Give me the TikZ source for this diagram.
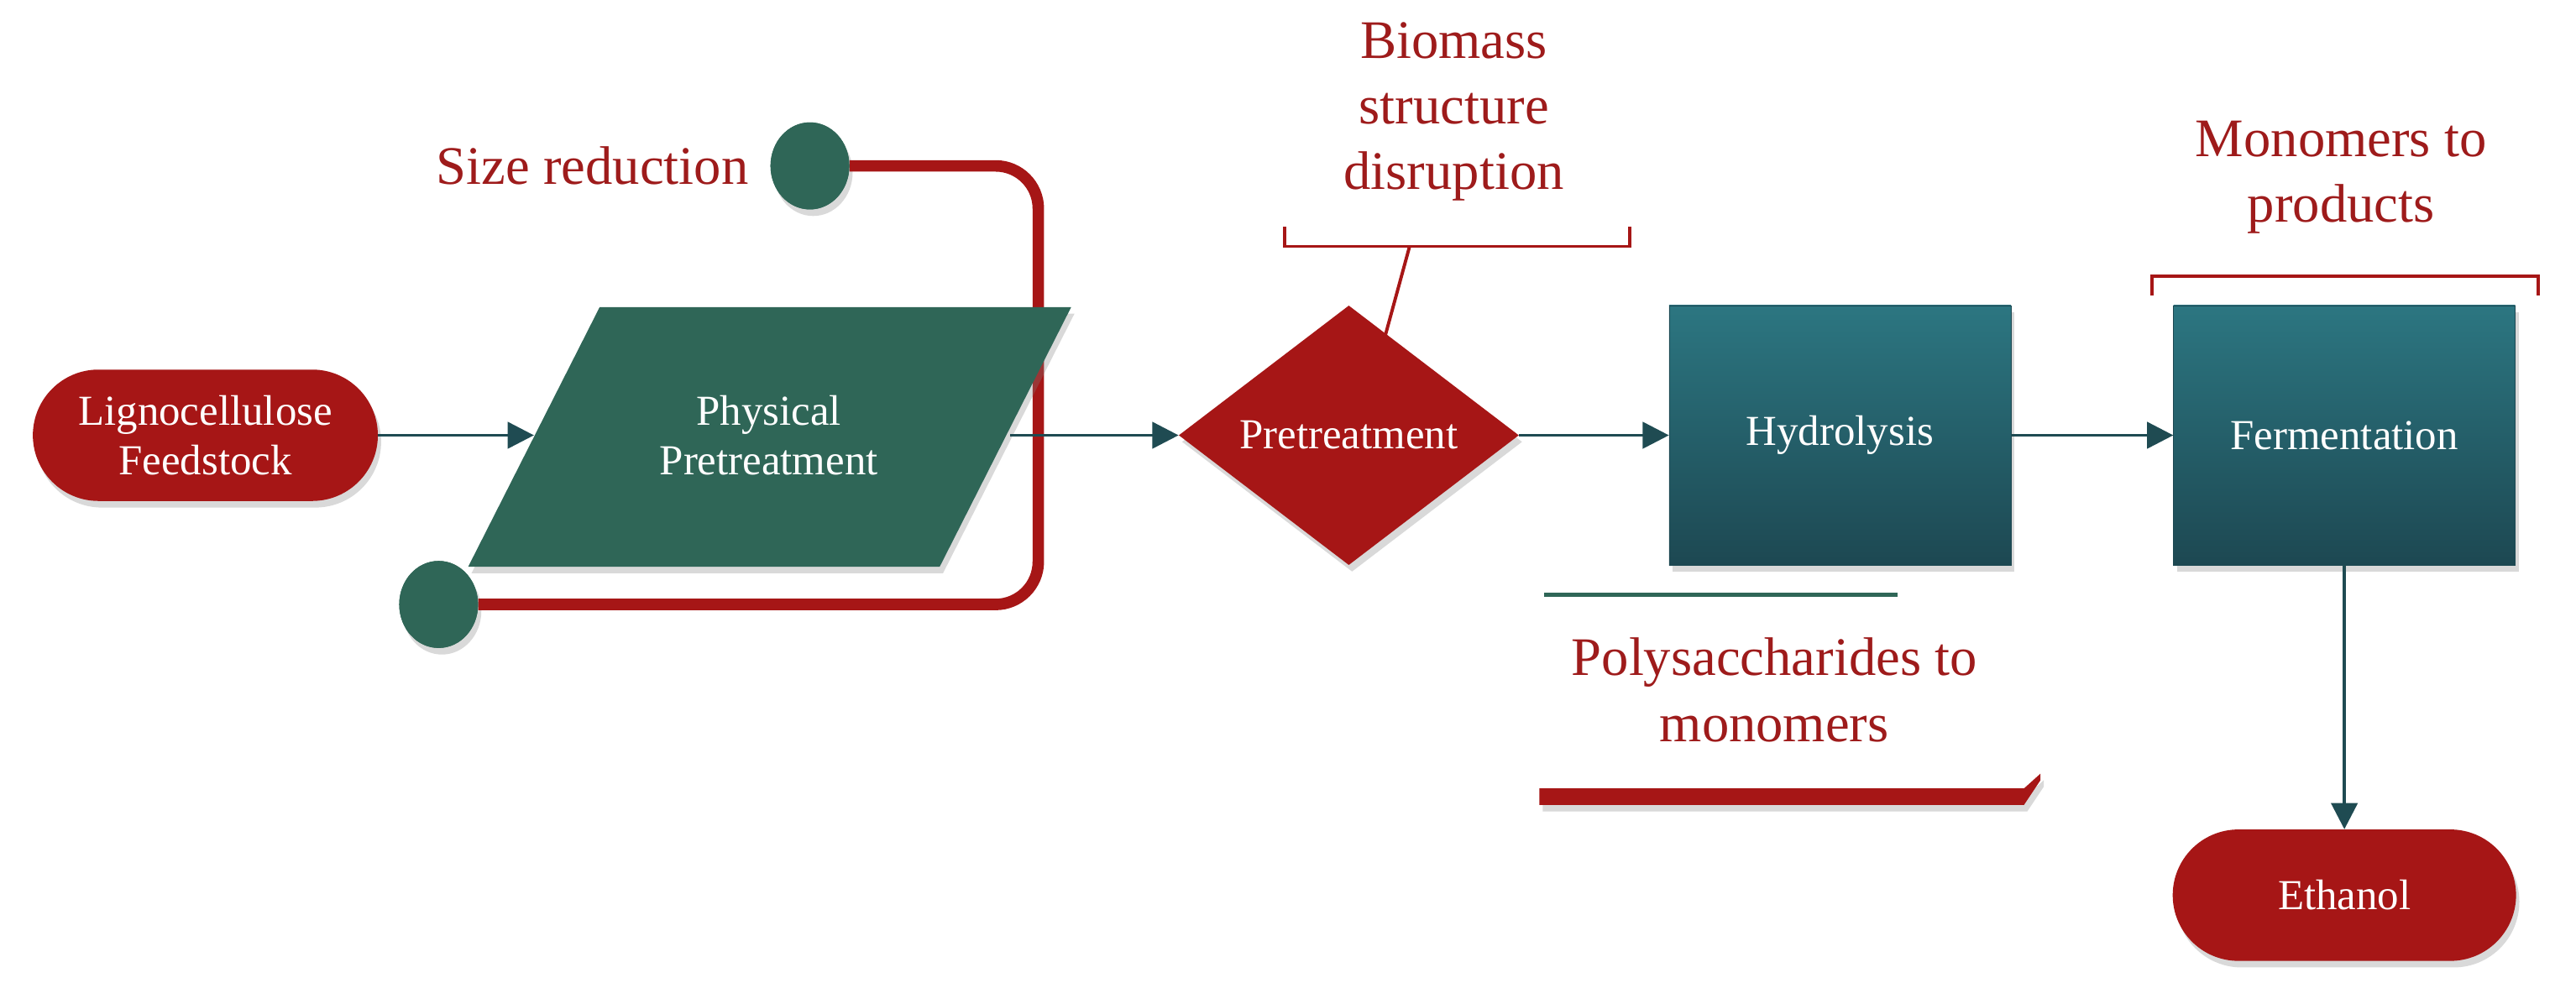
\documentclass[tikz,border=0pt]{standalone}
\usepackage{fontspec}
\setmainfont{Liberation Serif}
\usetikzlibrary{shapes.geometric,shapes.misc,shadows,arrows.meta}
\definecolor{dred}{HTML}{A61616}
\definecolor{tred}{HTML}{9E1B1B}
\definecolor{pgreen}{HTML}{2F6657}
\definecolor{tealtop}{HTML}{2C7681}
\definecolor{tealbot}{HTML}{1D4852}
\definecolor{arr}{HTML}{1F4B52}
\tikzset{
  x=0.05cm,y=-0.05cm,
  shad/.style={drop shadow={shadow xshift=1mm,shadow yshift=-2mm,opacity=0.3}},
  pill/.style={rounded rectangle,fill=dred,text=white,font=\fontsize{37}{43}\selectfont,align=center,shad,inner sep=0pt},
  box/.style={rectangle,top color=tealtop,bottom color=tealbot,draw=tealbot,text=white,font=\fontsize{37}{43}\selectfont,minimum width=10.4cm,minimum height=7.9cm,shad},
  lbl/.style={text=tred,font=\fontsize{47}{57}\selectfont,align=center},
  con/.style={draw=arr,line width=1mm,-{Triangle[length=8mm,width=8mm]}},
  dot/.style={ellipse,fill=pgreen,minimum width=2.4cm,minimum height=2.65cm,inner sep=0pt},
  brk/.style={dred,line width=1mm},
}
\begin{document}
\begin{tikzpicture}
\useasboundingbox (0,0) rectangle (1568,611);
% Lignocellulose
\node[pill,minimum width=10.5cm,minimum height=4cm] (lig) at (125,265) {Lignocellulose\\Feedstock};
% red loop
\node[dot,shad] (c1) at (493,101) {};
\node[dot,shad] (c2) at (267,368) {};
\draw[dred,line width=3.5mm,rounded corners=1.3cm] (c1.east) -- (632,101) -- (632,368) -- (c2.east);
\node[dot] at (493,101) {};
\node[dot] at (267,368) {};
% parallelogram
\fill[pgreen,shad] (365,187) -- (652,187) -- (572,345) -- (285,345) -- cycle;
\node[text=white,font=\fontsize{37}{43}\selectfont,align=center] (phys) at (468,265) {Physical\\Pretreatment};
\coordinate (pin) at (325,265);
\coordinate (pout) at (615,265);
\node[lbl,anchor=east] (size) at (458,101) {Size reduction};
% diamond
\node[diamond,fill=dred,text=white,font=\fontsize{37}{43}\selectfont,minimum width=10.35cm,minimum height=7.9cm,aspect=1.31,inner sep=0pt,shad] (pre) at (821,265) {Pretreatment};
% boxes
\node[box] (hyd) at (1120,265) {Hydrolysis};
\node[box] (fer) at (1427,265) {Fermentation};
\node[pill,minimum width=10.45cm,minimum height=4cm] (eth) at (1427,545) {Ethanol};
% connectors
\draw[con] (lig.east) -- (pin);
\draw[con] (pout) -- (pre.west);
\draw[con] (pre.east) -- (hyd.west);
\draw[con] (hyd.east) -- (fer.west);
\draw[con] (fer.south) -- (eth.north);
% Biomass label
\node[lbl] (bio) at (885,68) {Biomass\\structure\\disruption};
\draw[brk] (782,138) -- (782,150) -- (992,150) -- (992,138);
\coordinate (bb) at (858,150);
\draw[brk] (bb) -- (843,205);
% Monomers label
\node[lbl] (mon) at (1425,108) {Monomers to\\products};
\draw[brk] (1310,180) -- (1310,168) -- (1545,168) -- (1545,180);
% polysaccharides
\draw[pgreen,line width=1.4mm] (940,362) -- (1155,362);
\node[lbl] (poly) at (1080,420) {Polysaccharides to\\monomers};
\fill[dred,shad] (937,480) -- (1232,480) -- (1242,471) -- (1242,475) -- (1232,490) -- (937,490) -- cycle;
\end{tikzpicture}
\end{document}
